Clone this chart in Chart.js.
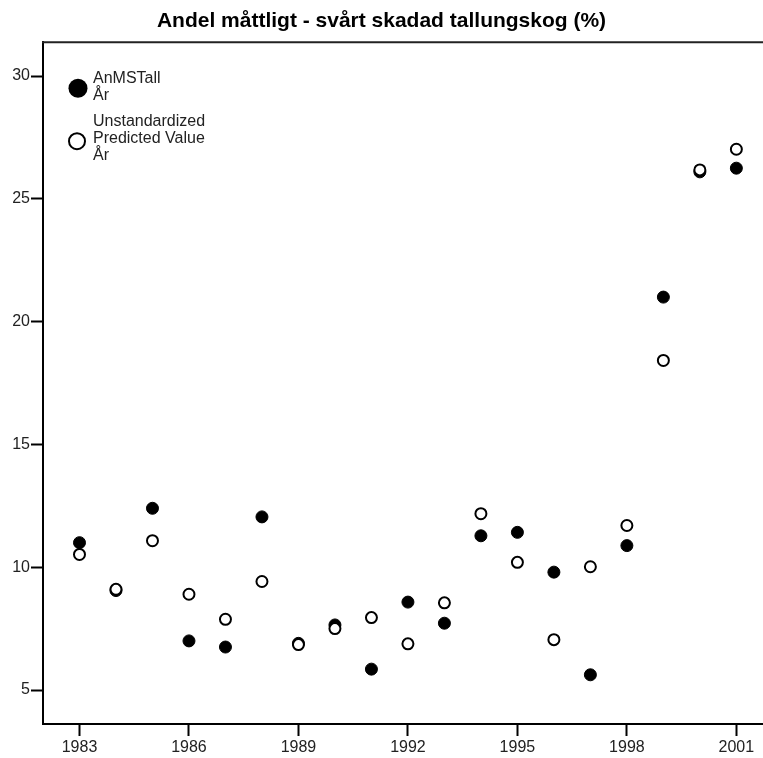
<!DOCTYPE html>
<html>
<head>
<meta charset="utf-8">
<script src="https://cdn.jsdelivr.net/npm/chart.js@4"></script>
<style>
  html, body { margin: 0; padding: 0; background: #fff; overflow: hidden; }
  #wrap { width: 763px; height: 758px; position: relative; }
  canvas { display: block; }
</style>
</head>
<body>
<div id="wrap"><canvas id="grafica"></canvas></div>
<script>
const years = [1983, 1984, 1985, 1986, 1987, 1988, 1989, 1990, 1991, 1992, 1993, 1994, 1995, 1996, 1997, 1998, 1999, 2000, 2001];
const anMSTall = [11.0, 9.05, 12.4, 7.0, 6.75, 12.05, 6.9, 7.65, 5.85, 8.58, 7.72, 11.28, 11.42, 9.8, 5.62, 10.88, 21.0, 26.1, 26.25];
const predicted = [10.52, 9.1, 11.08, 8.9, 7.88, 9.42, 6.85, 7.5, 7.95, 6.88, 8.55, 12.18, 10.2, 7.05, 10.02, 11.7, 18.42, 26.18, 27.02];
const xTicks = [1983, 1986, 1989, 1992, 1995, 1998, 2001];
const yTicks = [5, 10, 15, 20, 25, 30];
const titulo = 'Andel måttligt - svårt skadad tallungskog (%)';
const legendItems = [
  {lines: ['AnMSTall', 'År'], filled: true},
  {lines: ['Unstandardized', 'Predicted Value', 'År'], filled: false}
];

const fuente = "'Liberation Sans', Arial, sans-serif";

const toPoints = vals => vals.map((v, i) => ({x: years[i], y: v}));

// marco superior + leyenda dibujada a mano
const extras = {
  id: 'extras',
  afterDraw(chart) {
    const ctx = chart.ctx;
    const a = chart.chartArea;
    ctx.save();
    ctx.strokeStyle = '#222';
    ctx.lineWidth = 2;
    ctx.beginPath();
    ctx.moveTo(a.left - 1, a.top);
    ctx.lineTo(chart.width, a.top);
    ctx.stroke();

    ctx.font = '16px ' + fuente;
    ctx.textBaseline = 'alphabetic';
    // primer item
    ctx.beginPath();
    ctx.arc(a.left + 35, a.top + 46, 9.5, 0, Math.PI * 2);
    ctx.fillStyle = '#000';
    ctx.fill();
    ctx.fillStyle = '#222';
    legendItems[0].lines.forEach((t, i) => ctx.fillText(t, a.left + 50, a.top + 41 + i * 17));
    // segundo item
    ctx.beginPath();
    ctx.arc(a.left + 34, a.top + 99, 8, 0, Math.PI * 2);
    ctx.fillStyle = '#fff';
    ctx.fill();
    ctx.lineWidth = 2;
    ctx.strokeStyle = '#000';
    ctx.stroke();
    ctx.fillStyle = '#222';
    legendItems[1].lines.forEach((t, i) => ctx.fillText(t, a.left + 50, a.top + 84 + i * 17));
    ctx.restore();
  }
};

const g1 = new Chart('grafica', {
  type: 'scatter',
  data: {
    datasets: [{
      label: 'AnMSTall',
      data: toPoints(anMSTall),
      backgroundColor: '#000',
      borderColor: '#000',
      borderWidth: 1,
      pointRadius: 6,
      order: 2
    }, {
      label: 'Unstandardized Predicted Value',
      data: toPoints(predicted),
      backgroundColor: '#fff',
      borderColor: '#000',
      borderWidth: 2,
      pointRadius: 5.5,
      order: 1
    }]
  },
  options: {
    responsive: true,
    maintainAspectRatio: false,
    animation: false,
    layout: {padding: 0, autoPadding: false},
    plugins: {
      legend: {display: false},
      tooltip: {enabled: false},
      title: {
        display: true,
        text: titulo,
        color: '#000',
        font: {family: fuente, size: 21, weight: 'bold'},
        padding: {top: 9, bottom: 8}
      }
    },
    scales: {
      x: {
        type: 'linear',
        min: 1982,
        max: 2001.73,
        afterBuildTicks: s => { s.ticks = xTicks.map(v => ({value: v})); },
        afterFit: s => { s.height = 34; },
        grid: {display: true, drawOnChartArea: false, drawTicks: true, tickLength: 12, tickWidth: 2, tickColor: '#000'},
        border: {display: true, color: '#000', width: 2},
        ticks: {color: '#222', font: {family: fuente, size: 16}, padding: 2, maxRotation: 0, callback: v => String(v)}
      },
      y: {
        type: 'linear',
        min: 3.616,
        max: 31.38,
        afterBuildTicks: s => { s.ticks = yTicks.map(v => ({value: v})); },
        afterFit: s => { s.width = 43; },
        grid: {display: true, drawOnChartArea: false, drawTicks: true, tickLength: 12, tickWidth: 2, tickColor: '#000'},
        border: {display: true, color: '#000', width: 2},
        ticks: {color: '#222', font: {family: fuente, size: 16}, padding: 1}
      }
    }
  },
  plugins: [extras]
});
</script>
</body>
</html>
